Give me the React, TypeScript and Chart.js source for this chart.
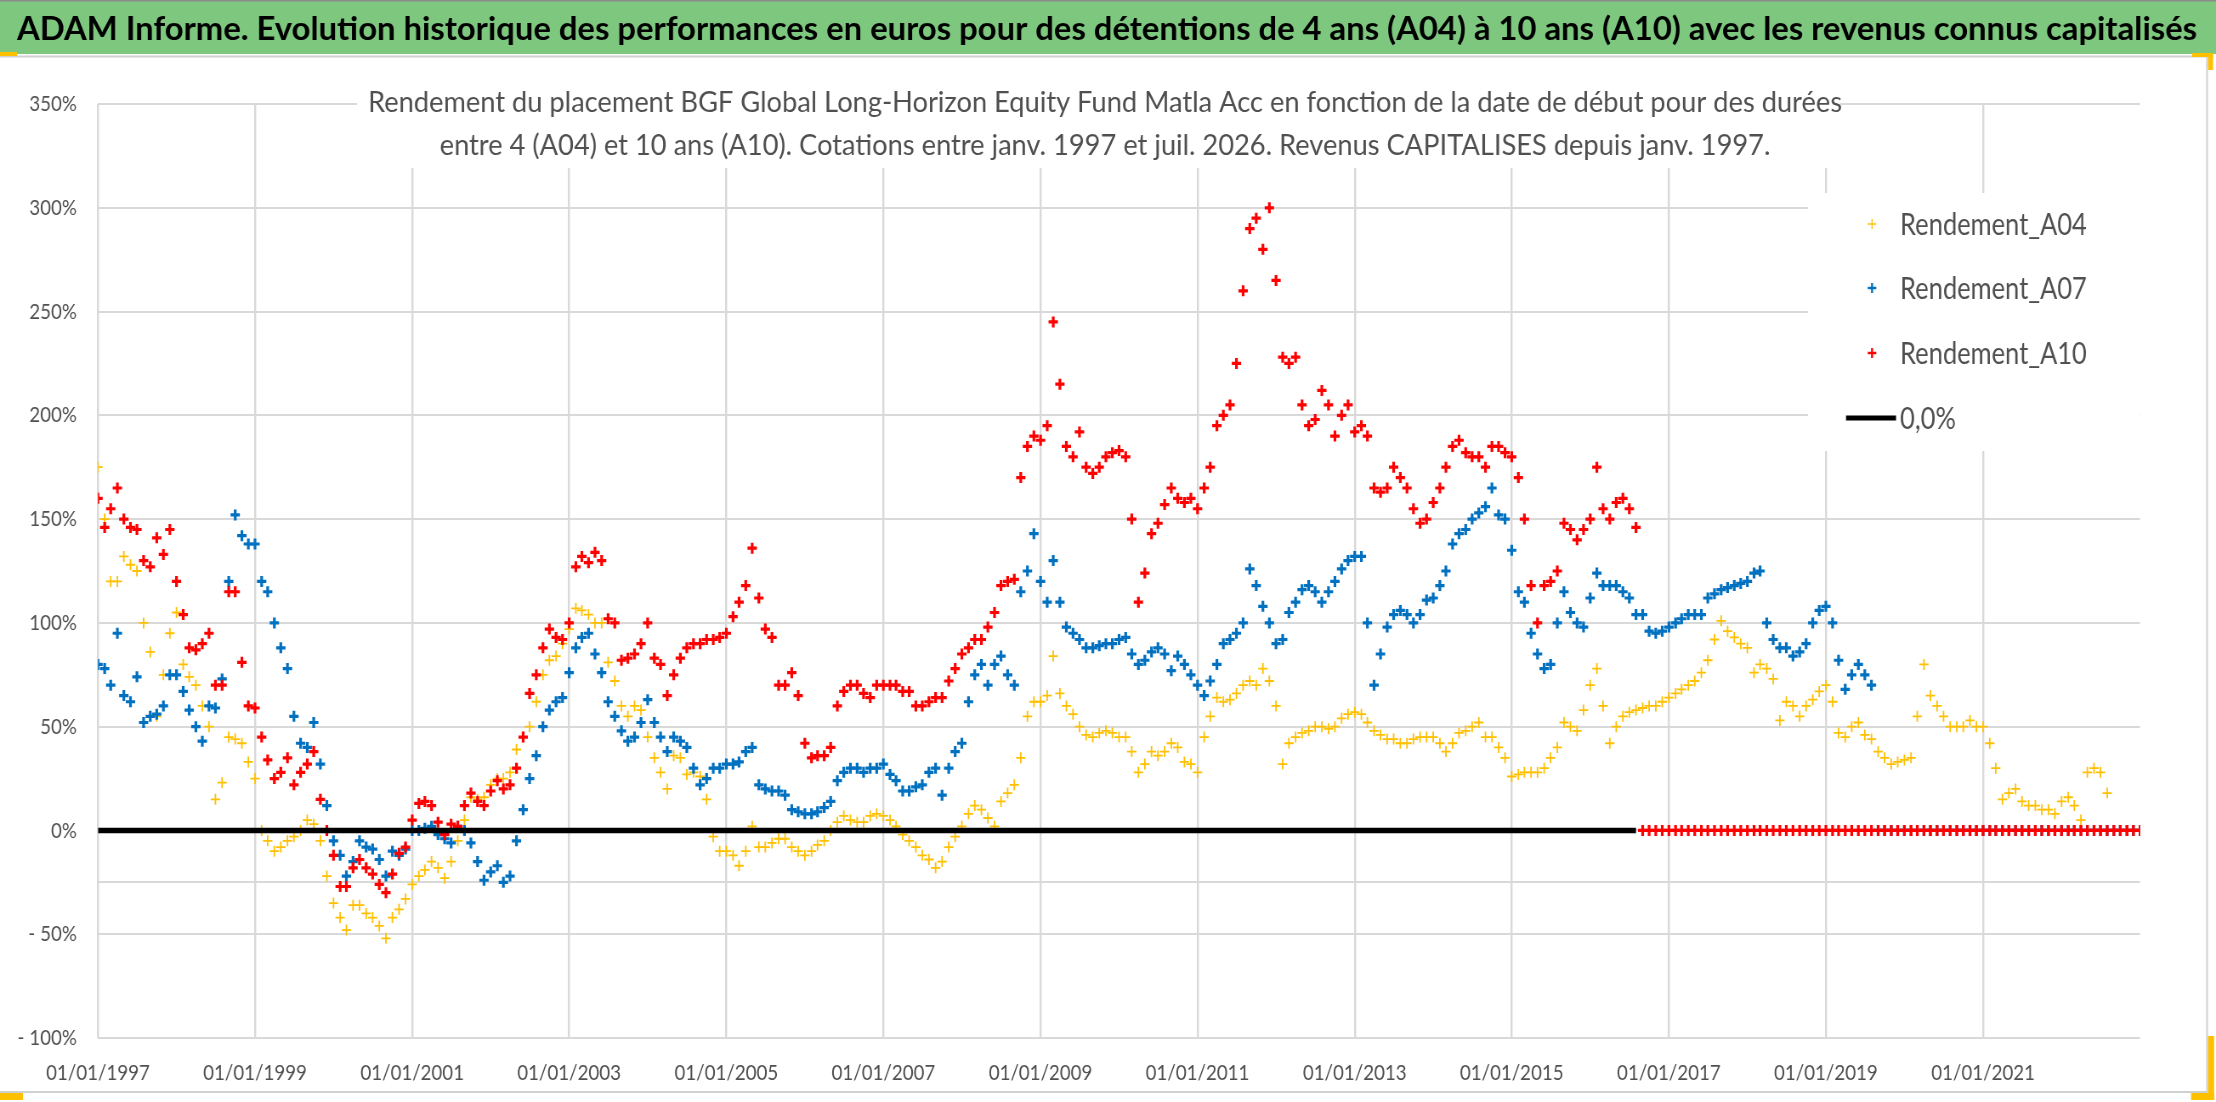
import { useEffect, useRef } from 'react'
import { Chart, registerables } from 'chart.js'
import type { ChartConfiguration, Plugin } from 'chart.js'

Chart.register(...registerables)

// page size of the reference; the Excel picture is squeezed horizontally
const PAGE_W = 2216
const PAGE_H = 1102
const SQUEEZE = 0.85
const CANVAS_W = Math.round(PAGE_W / SQUEEZE)
const px = (x: number) => x / SQUEEZE

const BANNER =
  'ADAM Informe. Evolution historique des performances en euros pour des détentions de 4 ans (A04) à 10 ans (A10) avec les revenus connus capitalisés'
const TITLE_LINES = [
  'Rendement du placement BGF Global Long-Horizon Equity Fund Matla Acc en fonction de la date de début pour des durées',
  'entre 4 (A04) et 10 ans (A10). Cotations entre janv. 1997 et juil. 2026. Revenus CAPITALISES depuis janv. 1997.',
]

const SERIES_LABELS = ['Rendement_A04', 'Rendement_A07', 'Rendement_A10', '0,0%']
const SERIES_COLORS = ['#FFC000', '#0070C0', '#FF0000', '#000000']

const FIRST_YEAR = 1997
const LAST_YEAR = 2023
const X_TICK_YEARS = [1997, 1999, 2001, 2003, 2005, 2007, 2009, 2011, 2013, 2015, 2017, 2019, 2021]
const Y_TICKS = [-100, -50, -25, 0, 50, 100, 150, 200, 250, 300, 350]

// returns in %, one value per month, Jan 1997 .. Jan 2023
const RENDEMENT_A04 = [
  175, 150, 120, 120, 132, 128, 125, 100, 86, 55, 75, 95, // 1997
  105, 80, 74, 70, 60, 50, 15, 23, 45, 44, 42, 33, // 1998
  25, 0, -5, -10, -8, -5, -3, 0, 5, 3, -5, -22, // 1999
  -35, -42, -48, -36, -36, -40, -42, -46, -52, -42, -38, -33, // 2000
  -26, -22, -19, -15, -18, -23, -15, -5, 5, 16, 15, 16, // 2001
  22, 25, 25, 28, 39, 45, 50, 62, 75, 82, 84, 90, // 2002
  97, 107, 106, 104, 100, 100, 81, 72, 60, 55, 60, 58, // 2003
  45, 35, 28, 20, 36, 35, 27, 28, 26, 15, -3, -10, // 2004
  -10, -12, -17, -10, 2, -8, -8, -6, -4, -4, -8, -10, // 2005
  -12, -10, -7, -5, 0, 4, 7, 5, 4, 4, 7, 8, // 2006
  7, 5, 2, -2, -5, -8, -12, -14, -18, -15, -8, -3, // 2007
  2, 8, 12, 10, 6, 2, 14, 18, 22, 35, 55, 62, // 2008
  62, 65, 84, 66, 60, 56, 50, 46, 45, 47, 48, 47, // 2009
  45, 45, 38, 28, 32, 38, 36, 38, 42, 40, 33, 32, // 2010
  28, 45, 55, 64, 62, 63, 66, 70, 72, 70, 78, 72, // 2011
  60, 32, 42, 45, 47, 48, 50, 50, 49, 50, 54, 56, // 2012
  57, 56, 52, 48, 46, 44, 44, 42, 42, 44, 45, 45, // 2013
  45, 42, 38, 42, 47, 48, 50, 52, 45, 45, 40, 35, // 2014
  26, 27, 28, 28, 28, 30, 35, 40, 52, 50, 48, 58, // 2015
  70, 78, 60, 42, 50, 55, 57, 58, 59, 60, 60, 62, // 2016
  64, 66, 68, 70, 72, 76, 82, 92, 101, 96, 93, 90, // 2017
  88, 76, 80, 78, 73, 53, 62, 60, 55, 60, 63, 67, // 2018
  70, 62, 47, 45, 50, 52, 46, 44, 38, 35, 32, 33, // 2019
  34, 35, 55, 80, 65, 60, 55, 50, 50, 50, 53, 50, // 2020
  50, 42, 30, 15, 18, 20, 14, 12, 12, 10, 10, 8, // 2021
  14, 16, 12, 5, 28, 30, 28, 18, 0, 0, 0, 0, // 2022
  0, // 2023
]

const RENDEMENT_A07 = [
  80, 78, 70, 95, 65, 62, 74, 52, 55, 56, 60, 75, // 1997
  75, 67, 58, 50, 43, 60, 59, 73, 120, 152, 142, 138, // 1998
  138, 120, 115, 100, 88, 78, 55, 42, 40, 52, 32, 12, // 1999
  -5, -12, -22, -15, -5, -8, -9, -14, -22, -10, -12, -9, // 2000
  0, 0, 1, 2, -2, -4, -6, 2, 0, -6, -15, -24, // 2001
  -20, -17, -25, -22, -5, 10, 25, 36, 50, 58, 62, 64, // 2002
  76, 88, 93, 95, 85, 76, 62, 55, 48, 43, 45, 52, // 2003
  63, 52, 45, 38, 45, 43, 40, 30, 22, 25, 30, 30, // 2004
  32, 32, 33, 38, 40, 22, 20, 19, 19, 17, 10, 9, // 2005
  8, 8, 9, 11, 14, 24, 28, 30, 30, 28, 30, 30, // 2006
  32, 27, 24, 19, 19, 21, 22, 28, 30, 17, 30, 38, // 2007
  42, 62, 75, 80, 70, 80, 84, 75, 70, 115, 125, 143, // 2008
  120, 110, 130, 110, 98, 95, 92, 88, 88, 89, 90, 90, // 2009
  92, 93, 85, 80, 82, 86, 88, 85, 77, 84, 80, 75, // 2010
  70, 65, 72, 80, 90, 92, 95, 100, 126, 118, 108, 100, // 2011
  90, 92, 105, 110, 116, 118, 115, 110, 115, 120, 126, 130, // 2012
  132, 132, 100, 70, 85, 98, 104, 106, 104, 100, 104, 111, // 2013
  112, 118, 125, 138, 143, 145, 150, 153, 156, 165, 152, 150, // 2014
  135, 115, 110, 95, 85, 78, 80, 100, 115, 105, 100, 98, // 2015
  112, 124, 118, 118, 118, 115, 112, 104, 104, 96, 95, 96, // 2016
  98, 100, 102, 104, 104, 104, 112, 114, 116, 117, 118, 119, // 2017
  120, 124, 125, 100, 92, 88, 88, 84, 86, 90, 100, 106, // 2018
  108, 100, 82, 68, 75, 80, 75, 70, 0, 0, 0, 0, // 2019
  0, 0, 0, 0, 0, 0, 0, 0, 0, 0, 0, 0, // 2020
  0, 0, 0, 0, 0, 0, 0, 0, 0, 0, 0, 0, // 2021
  0, 0, 0, 0, 0, 0, 0, 0, 0, 0, 0, 0, // 2022
  0, // 2023
]

const RENDEMENT_A10 = [
  160, 146, 155, 165, 150, 146, 145, 130, 127, 141, 133, 145, // 1997
  120, 104, 88, 87, 90, 95, 70, 70, 115, 115, 81, 60, // 1998
  59, 45, 34, 25, 28, 35, 22, 28, 32, 38, 15, 0, // 1999
  -12, -27, -27, -18, -14, -18, -21, -26, -30, -21, -11, -8, // 2000
  5, 13, 14, 12, 4, -2, 3, 2, 12, 18, 14, 12, // 2001
  19, 24, 20, 22, 30, 45, 66, 75, 88, 97, 93, 92, // 2002
  100, 127, 132, 129, 134, 130, 102, 100, 82, 83, 85, 90, // 2003
  100, 83, 80, 65, 75, 83, 88, 90, 90, 92, 92, 93, // 2004
  95, 103, 110, 118, 136, 112, 97, 93, 70, 70, 76, 65, // 2005
  42, 35, 36, 36, 40, 60, 67, 70, 70, 66, 64, 70, // 2006
  70, 70, 70, 67, 67, 60, 60, 62, 64, 64, 72, 78, // 2007
  85, 88, 92, 92, 98, 105, 118, 120, 121, 170, 185, 190, // 2008
  188, 195, 245, 215, 185, 180, 192, 175, 172, 175, 180, 182, // 2009
  183, 180, 150, 110, 124, 143, 148, 157, 165, 160, 158, 160, // 2010
  155, 165, 175, 195, 200, 205, 225, 260, 290, 295, 280, 300, // 2011
  265, 228, 225, 228, 205, 195, 198, 212, 205, 190, 200, 205, // 2012
  192, 195, 190, 165, 163, 165, 175, 170, 165, 155, 148, 150, // 2013
  158, 165, 175, 185, 188, 182, 180, 180, 175, 185, 185, 182, // 2014
  180, 170, 150, 118, 100, 118, 120, 125, 148, 145, 140, 145, // 2015
  150, 175, 155, 150, 158, 160, 155, 146, 0, 0, 0, 0, // 2016
  0, 0, 0, 0, 0, 0, 0, 0, 0, 0, 0, 0, // 2017
  0, 0, 0, 0, 0, 0, 0, 0, 0, 0, 0, 0, // 2018
  0, 0, 0, 0, 0, 0, 0, 0, 0, 0, 0, 0, // 2019
  0, 0, 0, 0, 0, 0, 0, 0, 0, 0, 0, 0, // 2020
  0, 0, 0, 0, 0, 0, 0, 0, 0, 0, 0, 0, // 2021
  0, 0, 0, 0, 0, 0, 0, 0, 0, 0, 0, 0, // 2022
  0, // 2023
]

// "0,0%" reference line, months counted from Jan 1997 (Jan 1997 .. Aug 2016)
const ZERO_LINE_MONTHS = [0, 235]
const ZERO_LINE_VALUES = [0, 0]

const monthToTime = (m: number) => Date.UTC(FIRST_YEAR, m, 1)
const toPoints = (values: number[]) => values.map((y, m) => ({ x: monthToTime(m), y }))

const GRID = '#D9D9D9'
const TEXT = '#505050'

function fillSqueezed(ctx: CanvasRenderingContext2D, text: string, x: number, y: number, k: number) {
  ctx.save()
  ctx.translate(x, y)
  ctx.scale(k, 1)
  ctx.fillText(text, 0, 0)
  ctx.restore()
}

// banner, outer frame and the selection handles of the Excel picture
const framePlugin: Plugin<'scatter'> = {
  id: 'frame',
  beforeDraw(chart) {
    const { ctx, width, height } = chart
    ctx.save()
    ctx.fillStyle = '#ffffff'
    ctx.fillRect(0, 0, width, height)

    ctx.fillStyle = '#7DC77F'
    ctx.fillRect(0, 0, width, 54)
    ctx.fillStyle = '#8C8C8C'
    ctx.fillRect(0, 0, width, 1.5)

    ctx.font = 'bold 33px Lato'
    ctx.fillStyle = '#000000'
    ctx.textAlign = 'center'
    ctx.textBaseline = 'middle'
    const k = px(2180) / ctx.measureText(BANNER).width
    fillSqueezed(ctx, BANNER, px(1107), 29, k)

    ctx.strokeStyle = '#D0D0D0'
    ctx.lineWidth = 2
    ctx.beginPath()
    ctx.moveTo(0, 56.5)
    ctx.lineTo(px(2207), 56.5)
    ctx.lineTo(px(2207), 1092)
    ctx.lineTo(0, 1092)
    ctx.stroke()

    ctx.fillStyle = '#FFC000'
    ctx.fillRect(0, 52, px(17), 4)
    ctx.fillRect(0, 1093, px(23), 7)
    ctx.fillRect(px(2191), 1093, px(23), 7)
    ctx.fillRect(px(2208), 1036, px(6), 64)
    ctx.fillRect(px(2192), 53, px(21), 4)
    ctx.fillRect(px(2208), 53, px(5), 17)
    ctx.restore()
  },
}

// chart title on a white box over the top of the plot area
const titlePlugin: Plugin<'scatter'> = {
  id: 'innerTitle',
  afterDraw(chart) {
    const { ctx } = chart
    ctx.save()
    ctx.fillStyle = '#ffffff'
    ctx.fillRect(px(357), 68, px(1840) - px(357), 100)
    ctx.font = '29px Lato'
    ctx.fillStyle = TEXT
    ctx.textAlign = 'center'
    ctx.textBaseline = 'middle'
    const k = px(1474) / ctx.measureText(TITLE_LINES[0]).width
    TITLE_LINES.forEach((line, i) => fillSqueezed(ctx, line, px(1105), 103 + i * 43, k))
    ctx.restore()
  },
}

// legend drawn inside the plot, top right
const legendPlugin: Plugin<'scatter'> = {
  id: 'innerLegend',
  afterDraw(chart) {
    const { ctx, chartArea } = chart
    const right = chartArea.right
    const rows = [224, 288, 353, 418]
    ctx.save()
    ctx.fillStyle = '#ffffff'
    ctx.fillRect(right - px(332), 193, px(332), 258)
    ctx.font = '30px Lato'
    ctx.textAlign = 'left'
    ctx.textBaseline = 'middle'
    chart.data.datasets.forEach((ds, i) => {
      const y = rows[i]
      const color = SERIES_COLORS[i]
      ctx.strokeStyle = color
      if (i < 3) {
        const cx = right - px(268)
        ctx.lineWidth = i === 0 ? 1.3 : 2.4
        ctx.beginPath()
        ctx.moveTo(cx - 5, y)
        ctx.lineTo(cx + 5, y)
        ctx.moveTo(cx, y - 5)
        ctx.lineTo(cx, y + 5)
        ctx.stroke()
      } else {
        ctx.lineWidth = 5
        ctx.beginPath()
        ctx.moveTo(right - px(294), y)
        ctx.lineTo(right - px(244), y)
        ctx.stroke()
      }
      ctx.fillStyle = TEXT
      ctx.fillText(String(ds.label), right - px(240), y + 1)
    })
    ctx.restore()
  },
}

const markerSeries = (i: number, values: number[], width: number, order: number) => ({
  label: SERIES_LABELS[i],
  data: toPoints(values),
  showLine: false,
  pointStyle: 'cross' as const,
  pointRadius: 5.5,
  pointBorderWidth: width,
  pointBorderColor: SERIES_COLORS[i],
  pointBackgroundColor: SERIES_COLORS[i],
  borderColor: SERIES_COLORS[i],
  backgroundColor: SERIES_COLORS[i],
  order,
})

export default function App() {
  const canvasRef = useRef<HTMLCanvasElement>(null)

  useEffect(() => {
    if (!canvasRef.current) return

    const config: ChartConfiguration<'scatter'> = {
      type: 'scatter',
      data: {
        datasets: [
          markerSeries(0, RENDEMENT_A04, 1.8, 3),
          markerSeries(1, RENDEMENT_A07, 3.2, 2),
          markerSeries(2, RENDEMENT_A10, 3.2, 1),
          {
            label: SERIES_LABELS[3],
            data: ZERO_LINE_MONTHS.map((m, i) => ({ x: monthToTime(m), y: ZERO_LINE_VALUES[i] })),
            showLine: true,
            borderColor: SERIES_COLORS[3],
            backgroundColor: SERIES_COLORS[3],
            borderWidth: 5.5,
            pointRadius: 0,
            order: 0,
          },
        ],
      },
      options: {
        responsive: false,
        animation: false,
        events: [],
        layout: {
          padding: { left: 0, right: CANVAS_W - px(2140), top: 104, bottom: 0 },
        },
        plugins: {
          legend: { display: false },
          title: { display: false },
          tooltip: { enabled: false },
        },
        scales: {
          x: {
            type: 'linear',
            min: monthToTime(0),
            max: Date.UTC(LAST_YEAR, 0, 1),
            afterBuildTicks: (scale) => {
              scale.ticks = X_TICK_YEARS.map((y) => ({ value: Date.UTC(y, 0, 1) }))
            },
            afterFit: (scale) => {
              scale.height = PAGE_H - 1038
            },
            ticks: {
              callback: (v) => '01/01/' + new Date(Number(v)).getUTCFullYear(),
              color: TEXT,
              font: { family: 'Lato', size: 22 },
              padding: 22,
              maxRotation: 0,
              autoSkip: false,
            },
            grid: { color: GRID, lineWidth: 2.4, drawTicks: false },
            border: { display: false },
          },
          y: {
            min: -100,
            max: 350,
            afterBuildTicks: (scale) => {
              scale.ticks = Y_TICKS.map((v) => ({ value: v }))
            },
            afterFit: (scale) => {
              scale.width = px(98)
            },
            ticks: {
              callback: (v) => {
                const n = Number(v)
                if (n === -25) return ''
                return n < 0 ? `- ${-n}%` : `${n}%`
              },
              color: TEXT,
              font: { family: 'Lato', size: 22 },
              padding: 25,
            },
            grid: { color: GRID, lineWidth: 2, drawTicks: false },
            border: { display: false },
          },
        },
      },
      plugins: [framePlugin, titlePlugin, legendPlugin],
    }

    const chart = new Chart(canvasRef.current, config)
    return () => {
      chart.destroy()
    }
  }, [])

  return (
    <div style={{ position: 'absolute', left: 0, top: 0, width: PAGE_W, height: PAGE_H, background: '#ffffff' }}>
      <canvas
        ref={canvasRef}
        width={CANVAS_W}
        height={PAGE_H}
        style={{ width: PAGE_W, height: PAGE_H, display: 'block' }}
      />
    </div>
  )
}
